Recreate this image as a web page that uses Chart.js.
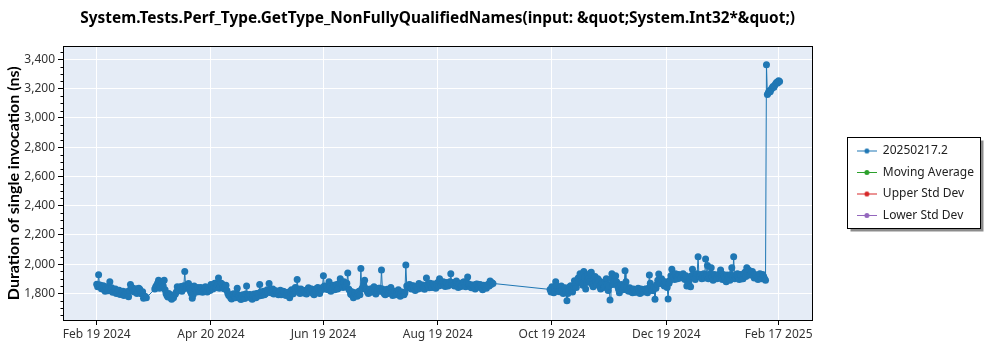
<!DOCTYPE html>
<html>
<head>
<meta charset="utf-8">
<script src="https://cdn.jsdelivr.net/npm/chart.js@4.4.1/dist/chart.umd.min.js"></script>
<style>
  body { margin: 0; background: #fff; }
  #chart { display: block; }
</style>
</head>
<body>
<canvas id="chart" width="1000" height="350"></canvas>
<script>
const chartTitle = 'System.Tests.Perf_Type.GetType_NonFullyQualifiedNames(input: &quot;System.Int32*&quot;)'
const yAxisTitle = 'Duration of single invocation (ns)'
const seriesLabels = ['20250217.2', 'Moving Average', 'Upper Std Dev', 'Lower Std Dev']
const seriesColors = ['#1f77b4', '#2ca02c', '#d62728', '#9467bd']

// x axis ticks (dates) and the y axis labelled values
const xTickDates = ['2024-02-19', '2024-04-20', '2024-06-19', '2024-08-19', '2024-10-19', '2024-12-19', '2025-02-17']
const xTickLabels = ['Feb 19 2024', 'Apr 20 2024', 'Jun 19 2024', 'Aug 19 2024', 'Oct 19 2024', 'Dec 19 2024', 'Feb 17 2025']
const xRange = ['2024-02-01', '2025-03-07']
const yTickValues = [1800, 2000, 2200, 2400, 2600, 2800, 3000, 3200, 3400]
const yRange = [1618, 3489]

// two runs a day (midnight + noon), each block starts on the date given
const runStart1 = '2024-02-19'
const runs1 = [1862, 1928, 1855, 1840, 1825, 1845, 1818, 1880, 1838, 1812, 1830, 1805, 1822, 1798, 1815, 1790, 1812, 1777, 1860, 1838, 1810, 1832, 1808, 1828, 1795, 1766, 1778]
const runs1Noon = [1845, 1858, 1832, 1852, 1815, 1828, 1836, 1822, 1808, 1826, 1800, 1818, 1792, 1810, 1785, 1805, 1795, 1820, 1842, 1815, 1826, 1800, 1835, 1805, 1812, 1780, 1770]

const runStart2 = '2024-03-21'
const runs2 = [
  1830, 1855, 1890, 1845, 1870, 1890, 1800, 1775, 1790, 1760,
  1770, 1795, 1845, 1820, 1848, 1830, 1950, 1840, 1868, 1815,
  1766, 1850, 1825, 1840, 1812, 1835, 1818, 1845, 1810, 1838,
  1860, 1830, 1870, 1845, 1905, 1850, 1862, 1832, 1855, 1800,
  1785, 1762, 1798, 1770, 1835, 1780, 1758, 1790, 1765, 1850,
  1775, 1790, 1760, 1795, 1770, 1800, 1860, 1785, 1815, 1795,
  1825, 1868, 1805, 1830, 1800, 1815, 1790, 1822, 1798, 1812,
  1785, 1808, 1770, 1825, 1800, 1840, 1895, 1815, 1830, 1805,
  1820, 1795, 1838, 1810, 1828, 1790, 1815, 1840, 1800, 1825,
  1920, 1830, 1850, 1880, 1815, 1840, 1825, 1860, 1835, 1900,
  1860, 1880, 1845, 1940, 1820, 1790, 1770, 1805, 1780, 1815,
  1970, 1840, 1890, 1825, 1800, 1830, 1815, 1845, 1795, 1820,
  1835, 1960, 1810, 1790, 1828, 1805, 1840, 1785, 1815, 1800,
  1825, 1780, 1810, 1790, 1994, 1840, 1860, 1830, 1852, 1820,
  1845, 1868, 1835, 1858, 1828, 1905, 1850, 1870, 1840, 1862,
  1835, 1875, 1900, 1855, 1880, 1848, 1870, 1860, 1935, 1875,
  1850, 1885, 1840, 1870, 1855, 1880, 1845, 1912, 1860, 1838,
  1855, 1830, 1865, 1842, 1858, 1825, 1850, 1835, 1862, 1884, 1872
]
const runs2Noon = [
  1845, 1870, 1835, 1880, 1850, 1825, 1785, 1800, 1770, 1785,
  1790, 1810, 1828, 1838, 1815, 1852, 1835, 1860, 1830, 1800,
  1790, 1830, 1810, 1822, 1840, 1808, 1830, 1815, 1832, 1820,
  1842, 1855, 1838, 1860, 1835, 1870, 1840, 1848, 1820, 1785,
  1770, 1790, 1775, 1800, 1790, 1765, 1780, 1772, 1795, 1775,
  1792, 1768, 1785, 1778, 1800, 1782, 1810, 1798, 1790, 1812,
  1808, 1825, 1820, 1795, 1818, 1798, 1810, 1790, 1815, 1795,
  1800, 1790, 1815, 1795, 1820, 1815, 1830, 1800, 1815, 1820,
  1800, 1825, 1812, 1830, 1800, 1822, 1835, 1808, 1830, 1840,
  1850, 1845, 1825, 1845, 1835, 1855, 1845, 1830, 1870, 1850,
  1840, 1850, 1870, 1830, 1795, 1810, 1785, 1795, 1800, 1790,
  1830, 1860, 1835, 1810, 1822, 1808, 1835, 1820, 1812, 1835,
  1815, 1830, 1798, 1815, 1800, 1825, 1805, 1800, 1790, 1815,
  1805, 1800, 1790, 1805, 1850, 1858, 1835, 1850, 1835, 1848,
  1830, 1850, 1855, 1840, 1852, 1860, 1838, 1852, 1865, 1845,
  1860, 1850, 1868, 1875, 1858, 1875, 1850, 1880, 1870, 1858,
  1875, 1860, 1862, 1848, 1875, 1855, 1872, 1865, 1845, 1858,
  1840, 1862, 1845, 1860, 1835, 1855, 1840, 1858, 1850, 1860, 1868
]

const runStart3 = '2024-10-18'
const runs3 = [
  1827, 1845, 1805, 1880, 1835, 1812, 1850, 1800, 1838, 1750,
  1820, 1852, 1810, 1886, 1840, 1905, 1935, 1870, 1950, 1830,
  1925, 1880, 1945, 1845, 1915, 1860, 1890, 1830, 1875, 1845,
  1900, 1820, 1755, 1935, 1880, 1920, 1850, 1805, 1860, 1825,
  1955, 1840, 1815, 1830, 1805, 1825, 1810, 1835, 1800, 1822,
  1812, 1830, 1805, 1925, 1845, 1820, 1760, 1860, 1932, 1870,
  1885, 1850, 1875, 1761, 1890, 1966, 1915, 1935, 1900, 1925,
  1910, 1935, 1895, 1850, 1870, 1845, 1966, 1905, 1920, 2050,
  1915, 1900, 1935, 2035, 1990, 1910, 1975, 1890, 1925, 1900,
  1930, 1960, 1895, 1915, 1880, 1905, 1890, 1975, 2050, 1910,
  1935, 1895, 1920, 1900, 1945, 1975, 1960, 1930, 1950, 1905,
  1920, 1895, 1935, 1900, 1915
]
const runs3Noon = [
  1810, 1820, 1838, 1850, 1815, 1840, 1825, 1832, 1810, 1800,
  1845, 1830, 1850, 1860, 1875, 1880, 1920, 1855, 1910, 1875,
  1900, 1940, 1860, 1905, 1880, 1900, 1845, 1870, 1840, 1885,
  1860, 1850, 1900, 1860, 1910, 1880, 1830, 1850, 1835, 1848,
  1880, 1820, 1838, 1812, 1830, 1808, 1828, 1815, 1830, 1810,
  1828, 1815, 1835, 1870, 1820, 1840, 1835, 1890, 1870, 1900,
  1860, 1880, 1840, 1870, 1920, 1930, 1895, 1910, 1930, 1905,
  1925, 1905, 1920, 1880, 1900, 1920, 1930, 1895, 1935, 1915,
  1930, 1920, 1905, 1925, 1900, 1935, 1910, 1930, 1905, 1925,
  1905, 1915, 1930, 1900, 1925, 1910, 1930, 1915, 1900, 1925,
  1910, 1930, 1900, 1935, 1915, 1940, 1925, 1945, 1920, 1930,
  1905, 1925, 1910, 1930, 1900
]

const runStart4 = '2025-02-10'
const runs4 = [1890, 3160, 3185, 3195, 3215, 3225, 3245, 3255]
const runs4Noon = [3364, 3172, 3180, 3205, 3210, 3235, 3240, 3250]

const DAY = 86400000
const toTime = (d) => Date.parse(d + 'T00:00:00Z')

function runPoints(start, values, offset) {
  const t0 = toTime(start) + offset
  return values.map((v, i) => ({ x: t0 + i * DAY, y: v }))
}

const mainSeries = [
  ...runPoints(runStart1, runs1, 0), ...runPoints(runStart1, runs1Noon, DAY / 2),
  ...runPoints(runStart2, runs2, 0), ...runPoints(runStart2, runs2Noon, DAY / 2),
  ...runPoints(runStart3, runs3, 0), ...runPoints(runStart3, runs3Noon, DAY / 2),
  ...runPoints(runStart4, runs4, 0), ...runPoints(runStart4, runs4Noon, DAY / 2),
].sort((a, b) => a.x - b.x)

const uiFont = "'Segoe UI', 'Noto Sans', sans-serif"

// small line + dot pictures for the legend
function legendIcon(color) {
  const c = document.createElement('canvas')
  c.width = 20
  c.height = 7
  const g = c.getContext('2d')
  g.strokeStyle = color
  g.lineWidth = 1
  g.beginPath()
  g.moveTo(0, 3.5)
  g.lineTo(20, 3.5)
  g.stroke()
  g.fillStyle = color
  g.beginPath()
  g.arc(10, 3.5, 2.5, 0, Math.PI * 2)
  g.fill()
  return c
}
const legendIcons = seriesColors.map(legendIcon)

const plotFrame = {
  id: 'plotFrame',
  beforeDraw(chart) {
    const { ctx, chartArea: a, legend } = chart
    ctx.save()
    ctx.fillStyle = '#e5ecf6'
    ctx.fillRect(a.left, a.top, a.right - a.left, a.bottom - a.top)

    // legend box with shadow
    const boxes = legend.legendHitBoxes
    if (boxes && boxes.length) {
      const l = Math.round(legend.left) + 0.5
      const r = Math.round(Math.max(...boxes.map(b => b.left + b.width)) + 6) + 0.5
      const t = Math.round(Math.min(...boxes.map(b => b.top)) - 8) + 0.5
      const bt = Math.round(Math.max(...boxes.map(b => b.top + b.height)) + 7) + 0.5
      ctx.fillStyle = 'rgba(0,0,0,0.45)'
      ctx.fillRect(l + 3, t + 3, r - l, bt - t)
      ctx.fillStyle = '#fff'
      ctx.fillRect(l, t, r - l, bt - t)
      ctx.strokeStyle = '#000'
      ctx.lineWidth = 1
      ctx.strokeRect(l, t, r - l, bt - t)
    }
    ctx.restore()
  },
  afterDraw(chart) {
    const { ctx, chartArea: a, scales } = chart
    ctx.save()
    ctx.strokeStyle = '#000'
    ctx.lineWidth = 1
    const l = Math.round(a.left) + 0.5
    const t = Math.round(a.top) + 0.5
    const r = Math.round(a.right) + 0.5
    const b = Math.round(a.bottom) + 0.5
    ctx.strokeRect(l, t, r - l, b - t)

    // minor ticks on the y axis
    const y = scales.y
    ctx.beginPath()
    for (let v = Math.ceil(y.min / 50) * 50; v <= y.max; v += 50) {
      if (v % 200 === 0) continue
      const py = Math.round(y.getPixelForValue(v)) + 0.5
      ctx.moveTo(l - 3, py)
      ctx.lineTo(l, py)
    }
    ctx.stroke()
    ctx.restore()
  }
}

const ctx = document.getElementById('chart').getContext('2d')
new Chart(ctx, {
  type: 'line',
  data: {
    datasets: seriesLabels.map((label, i) => ({
      label: label,
      data: i === 0 ? mainSeries : [],
      borderColor: seriesColors[i],
      backgroundColor: seriesColors[i],
      borderWidth: 1,
      pointRadius: 3.5,
      pointBorderWidth: 0,
      pointHoverRadius: 3.5,
      tension: 0,
    }))
  },
  options: {
    responsive: false,
    animation: false,
    devicePixelRatio: 1,
    layout: { padding: { left: 0, right: 16, top: 0, bottom: 0 } },
    scales: {
      x: {
        type: 'linear',
        min: toTime(xRange[0]),
        max: toTime(xRange[1]),
        afterBuildTicks: (scale) => {
          scale.ticks = xTickDates.map(d => ({ value: toTime(d) }))
        },
        afterFit: (scale) => { scale.height = 30 },
        ticks: {
          autoSkip: false,
          maxRotation: 0,
          padding: 2,
          color: '#333',
          font: { family: uiFont, size: 12 },
          callback: (value, index) => xTickLabels[index],
        },
        grid: { color: '#fff', lineWidth: 1, tickColor: '#000', tickLength: 5 },
        border: { display: false },
      },
      y: {
        type: 'linear',
        min: yRange[0],
        max: yRange[1],
        afterBuildTicks: (scale) => {
          scale.ticks = yTickValues.map(v => ({ value: v }))
        },
        afterFit: (scale) => { scale.width = 63 },
        ticks: {
          autoSkip: false,
          padding: 3,
          color: '#333',
          font: { family: uiFont, size: 12 },
          callback: (value) => value.toLocaleString('en-US'),
        },
        grid: { color: '#fff', lineWidth: 1, tickColor: '#000', tickLength: 5 },
        border: { display: false },
        title: {
          display: true,
          text: yAxisTitle,
          color: '#000',
          font: { family: "'Segoe UI', Lato, sans-serif", size: 16, weight: 'bold' },
          padding: { top: 4, bottom: 0 },
        },
      },
      gap: {
        type: 'linear',
        position: 'right',
        display: true,
        grid: { display: false },
        ticks: { display: false },
        border: { display: false },
        afterFit: (scale) => { scale.width = 35 },
      },
    },
    plugins: {
      title: {
        display: true,
        text: chartTitle,
        fullSize: false,
        color: '#000',
        font: { family: uiFont, size: 15.4, weight: 'bold' },
        padding: { top: 9, bottom: 19 },
      },
      legend: {
        position: 'right',
        fullSize: false,
        labels: {
          usePointStyle: true,
          pointStyleWidth: 20,
          boxHeight: 7,
          padding: 9.5,
          color: '#222',
          font: { family: uiFont, size: 12 },
          generateLabels: (chart) => {
            const items = Chart.defaults.plugins.legend.labels.generateLabels(chart)
            items.forEach((item, i) => { item.pointStyle = legendIcons[i] })
            return items
          },
        },
      },
      tooltip: { enabled: false },
    },
  },
  plugins: [plotFrame],
})
</script>
</body>
</html>
